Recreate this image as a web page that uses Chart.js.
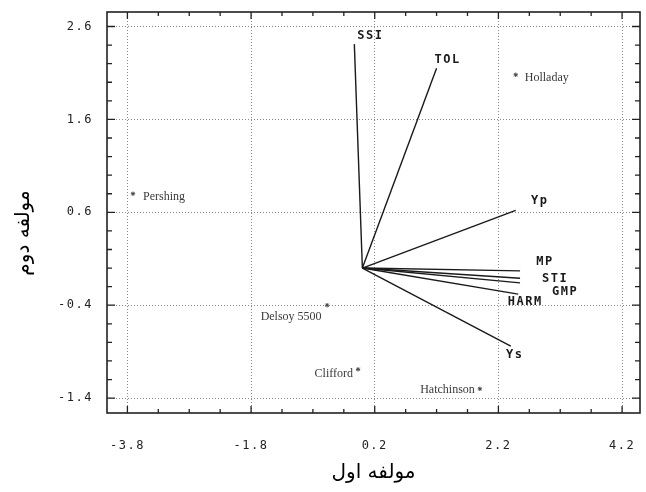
<!DOCTYPE html>
<html>
<head>
<meta charset="utf-8">
<script src="https://cdn.jsdelivr.net/npm/chart.js@4"></script>
<style>
  body { margin: 0; background: #fff; }
  canvas { display: block; }
</style>
</head>
<body>
<canvas id="biplot" width="646" height="492"></canvas>
<script>
// variables (vectors from the origin)
const vectorNames = ['SSI', 'TOL', 'Yp', 'MP', 'STI', 'GMP', 'HARM', 'Ys'];
const vectorX = [-0.13, 1.20, 2.48, 2.55, 2.55, 2.55, 2.52, 2.40];
const vectorY = [2.41, 2.15, 0.62, -0.03, -0.11, -0.16, -0.28, -0.84];

// genotypes (points)
const genoNames = ['Holladay', 'Pershing', 'Delsoy 5500', 'Clifford', 'Hatchinson'];
const genoX = [2.48, -3.71, -0.57, -0.07, 1.90];
const genoY = [2.08, 0.80, -0.40, -1.09, -1.30];

// axis ticks
const xTicks = [-3.8, -3.3, -2.8, -2.3, -1.8, -1.3, -0.8, -0.3, 0.2, 0.7, 1.2, 1.7, 2.2, 2.7, 3.2, 3.7, 4.2];
const xMajor = [-3.8, -1.8, 0.2, 2.2, 4.2];
const yTicks = [-1.4, -1.2, -1.0, -0.8, -0.6, -0.4, -0.2, 0, 0.2, 0.4, 0.6, 0.8, 1.0, 1.2, 1.4, 1.6, 1.8, 2.0, 2.2, 2.4, 2.6];
const yMajor = [-1.4, -0.4, 0.6, 1.6, 2.6];

const xTitle = 'مولفه اول';
const yTitle = 'مولفه دوم';

// label placement (pixels from the mark)
const vectorLabelOffset = [[16, -8], [11, -8], [24, -10], [25, -9], [35, 1], [45, 9], [7, 8], [4, 9]];
const genoLabelPlace = [
  { align: 'left', dx: 9, dy: 3 },
  { align: 'left', dx: 10, dy: 3 },
  { align: 'center', dx: -36, dy: 12 },
  { align: 'right', dx: -5, dy: 5 },
  { align: 'right', dx: -5, dy: 1 }
];

const isMajor = (list, v) => list.some(m => Math.abs(m - v) < 1e-6);

const datasets = vectorNames.map((name, i) => ({
  type: 'line',
  label: name,
  data: [{ x: 0, y: 0 }, { x: vectorX[i], y: vectorY[i] }],
  borderColor: '#1a1a1a',
  borderWidth: 1.4,
  pointRadius: 0,
  fill: false
}));

datasets.push({
  type: 'scatter',
  label: 'genotypes',
  data: genoX.map((x, i) => ({ x: x, y: genoY[i] })),
  pointStyle: 'star',
  pointRadius: 2.2,
  borderWidth: 1,
  borderColor: '#444',
  backgroundColor: '#444'
});

const framePlugin = {
  id: 'frame',
  beforeDraw(chart) {
    chart.ctx.letterSpacing = '1.5px';
  },
  afterDatasetsDraw(chart) {
    const ctx = chart.ctx;
    const xs = chart.scales.x, ys = chart.scales.y;
    const a = chart.chartArea;
    ctx.save();
    // frame
    ctx.strokeStyle = '#222';
    ctx.lineWidth = 1.6;
    ctx.strokeRect(a.left, a.top, a.right - a.left, a.bottom - a.top);
    // inward ticks
    ctx.lineWidth = 1.3;
    xTicks.forEach(v => {
      const px = xs.getPixelForValue(v);
      const len = isMajor(xMajor, v) ? 7 : 4;
      ctx.beginPath();
      ctx.moveTo(px, a.bottom); ctx.lineTo(px, a.bottom - len);
      ctx.moveTo(px, a.top); ctx.lineTo(px, a.top + len);
      ctx.stroke();
    });
    yTicks.forEach(v => {
      const py = ys.getPixelForValue(v);
      const len = isMajor(yMajor, v) ? 8 : 5;
      ctx.beginPath();
      ctx.moveTo(a.left, py); ctx.lineTo(a.left + len, py);
      ctx.moveTo(a.right, py); ctx.lineTo(a.right - len, py);
      ctx.stroke();
    });

    // variable labels
    ctx.fillStyle = '#1a1a1a';
    ctx.font = 'bold 12px "DejaVu Sans Mono"';
    ctx.letterSpacing = '1.5px';
    ctx.textAlign = 'center';
    ctx.textBaseline = 'middle';
    vectorNames.forEach((name, i) => {
      const px = xs.getPixelForValue(vectorX[i]);
      const py = ys.getPixelForValue(vectorY[i]);
      ctx.fillText(name, px + vectorLabelOffset[i][0], py + vectorLabelOffset[i][1]);
    });

    // genotype labels
    ctx.fillStyle = '#3a3a3a';
    ctx.font = '12px "Liberation Serif"';
    ctx.letterSpacing = '0px';
    genoNames.forEach((name, i) => {
      const p = genoLabelPlace[i];
      const px = xs.getPixelForValue(genoX[i]);
      const py = ys.getPixelForValue(genoY[i]);
      ctx.textAlign = p.align;
      ctx.fillText(name, px + p.dx, py + p.dy);
    });
    ctx.restore();
  },
  afterDraw(chart) {
    const ctx = chart.ctx;
    const a = chart.chartArea;
    ctx.save();
    ctx.letterSpacing = '0px';
    ctx.fillStyle = '#000';
    ctx.font = '20px "DejaVu Sans"';
    ctx.textAlign = 'center';
    ctx.textBaseline = 'middle';
    ctx.fillText(xTitle, (a.left + a.right) / 2, 473);
    ctx.translate(24, 233);
    ctx.rotate(-Math.PI / 2);
    ctx.fillText(yTitle, 0, 0);
    ctx.restore();
  }
};

new Chart(document.getElementById('biplot'), {
  type: 'scatter',
  data: { datasets: datasets },
  plugins: [framePlugin],
  options: {
    responsive: false,
    animation: false,
    layout: { padding: { top: 12, right: 6, left: 0, bottom: 0 } },
    plugins: {
      legend: { display: false },
      tooltip: { enabled: false }
    },
    scales: {
      x: {
        type: 'linear',
        min: -4.13,
        max: 4.49,
        afterBuildTicks: axis => { axis.ticks = xTicks.map(v => ({ value: v })); },
        afterFit: axis => { axis.height = 79; axis.paddingLeft = 0; axis.paddingRight = 0; },
        border: { display: false, dash: [1, 2] },
        grid: {
          drawTicks: false,
          color: c => (c.tick && isMajor(xMajor, c.tick.value)) ? '#8a8a8a' : 'rgba(0,0,0,0)',
          lineWidth: 1
        },
        ticks: {
          autoSkip: false,
          maxRotation: 0,
          padding: 26,
          color: '#222',
          font: { family: 'DejaVu Sans Mono', size: 12 },
          callback: v => isMajor(xMajor, v) ? v.toFixed(1) : ''
        }
      },
      y: {
        type: 'linear',
        min: -1.56,
        max: 2.756,
        afterBuildTicks: axis => { axis.ticks = yTicks.map(v => ({ value: v })); },
        afterFit: axis => { axis.width = 107; axis.paddingTop = 0; axis.paddingBottom = 0; },
        border: { display: false, dash: [1, 2] },
        grid: {
          drawTicks: false,
          color: c => (c.tick && isMajor(yMajor, c.tick.value)) ? '#8a8a8a' : 'rgba(0,0,0,0)',
          lineWidth: 1
        },
        ticks: {
          autoSkip: false,
          padding: 14,
          color: '#222',
          font: { family: 'DejaVu Sans Mono', size: 12 },
          callback: v => isMajor(yMajor, v) ? v.toFixed(1) : ''
        }
      }
    }
  }
});
</script>
</body>
</html>
